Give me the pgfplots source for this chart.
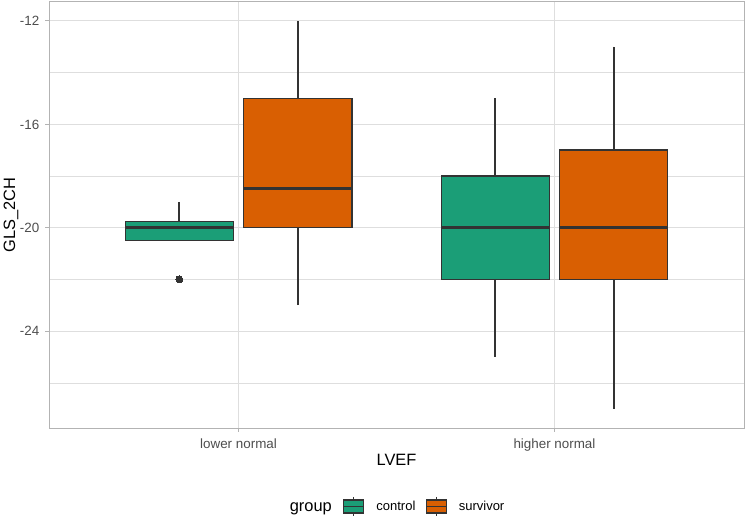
\documentclass[border=0pt]{standalone}
\usepackage{pgfplots}
\pgfplotsset{compat=1.18}
\usepgfplotslibrary{statistics}
\usepackage{fontspec}
\setmainfont{Liberation Sans}
\definecolor{ctrl}{HTML}{1B9E77}
\definecolor{surv}{HTML}{D95F02}
\definecolor{g20}{HTML}{333333}
\definecolor{g30}{HTML}{4D4D4D}
\definecolor{g70}{HTML}{B3B3B3}
\definecolor{g87}{HTML}{DEDEDE}
\pgfplotsset{
  ggbox/.style={draw=g20, line width=1.4bp, forget plot,
    boxplot/every whisker/.style={line width=1.8bp, draw=g20},
    boxplot/every box/.style={line width=1.4bp, draw=g20},
    boxplot/every median/.style={line width=2.8bp, draw=g20}},
}
\begin{document}
\begin{tikzpicture}[x=1bp,y=1bp]
\path[use as bounding box] (0,0) rectangle (746,519);
\begin{axis}[
  at={(49bp,91bp)}, anchor=south west,
  scale only axis, width=695bp, height=426.5bp,
  xmin=0.4, xmax=2.6, ymin=-27.75, ymax=-11.25,
  axis line style={g70, line width=0.9bp},
  xtick={1,2}, xticklabels={lower normal, higher normal},
  ytick={-24,-20,-16,-12}, yticklabels={-24,-20,-16,-12},
  minor ytick={-26,-22,-18,-14},
  grid=both,
  major grid style={g87, line width=0.9bp},
  minor grid style={g87, line width=0.5bp},
  tick pos=left,
  tick align=outside, major tick length=4bp, minor tick length=0pt,
  tick style={g70, line width=0.9bp},
  xticklabel style={font=\fontsize{13.4bp}{16bp}\selectfont, text=g30, anchor=base, inner sep=0pt, yshift=-17bp},
  yticklabel style={font=\fontsize{13.4bp}{16bp}\selectfont, text=g30, anchor=base east, inner sep=0pt, xshift=-5.5bp, yshift=-4.8bp},
  xlabel={LVEF},
  xlabel style={at={(axis description cs:0.5,-0.0868)}, anchor=base, inner sep=0pt, font=\fontsize{16.4bp}{19bp}\selectfont},
  ylabel={GLS\_2CH},
  ylabel style={at={(axis description cs:-0.0489,0.5)}, anchor=base, inner sep=0pt, font=\fontsize{16.4bp}{19bp}\selectfont},
  boxplot/draw direction=y,
  boxplot/box extend=0.342,
  boxplot/whisker extend=0,
  legend columns=-1,
  legend style={at={(axis description cs:0.4230,-0.184)}, anchor=west, draw=none, fill=none,
    font=\fontsize{13bp}{15bp}\selectfont, inner sep=0pt, outer sep=0pt,
    nodes={inner sep=0pt, anchor=base west},
    /tikz/column 1/.style={column sep=12bp},
    /tikz/column 2/.style={column sep=10bp},
    /tikz/column 3/.style={column sep=12bp}},
  legend image code/.code={
    \draw[g20, line width=1.2bp] (10bp,-5bp) -- (10bp,14bp);
    \draw[#1, draw=g20, line width=1.2bp] (0bp,-2bp) rectangle (20bp,11bp);
    \draw[g20, line width=1.4bp] (0bp,4.5bp) -- (20bp,4.5bp);
  },
]
% lower normal
\addplot[ggbox, boxplot prepared={draw position=0.8125, lower whisker=-20.5, lower quartile=-20.5, median=-20, upper quartile=-19.75, upper whisker=-19},
  fill=ctrl, mark=*, mark size=3.4bp, mark options={fill=g20, draw=g20, line width=0pt}] coordinates {(0,-22)};
\addplot[ggbox, boxplot prepared={draw position=1.1875, lower whisker=-23, lower quartile=-20, median=-18.5, upper quartile=-15, upper whisker=-12},
  fill=surv] coordinates {};
% higher normal
\addplot[ggbox, boxplot prepared={draw position=1.8125, lower whisker=-25, lower quartile=-22, median=-20, upper quartile=-18, upper whisker=-15},
  fill=ctrl] coordinates {};
\addplot[ggbox, boxplot prepared={draw position=2.1875, lower whisker=-27, lower quartile=-22, median=-20, upper quartile=-17, upper whisker=-13},
  fill=surv] coordinates {};
\addlegendimage{fill=ctrl}
\addlegendentry{control}
\addlegendimage{fill=surv}
\addlegendentry{survivor}
\end{axis}
\node[anchor=base east, inner sep=0pt, font=\fontsize{16.4bp}{19bp}\selectfont] at (332bp,7bp) {group};
\end{tikzpicture}
\end{document}
